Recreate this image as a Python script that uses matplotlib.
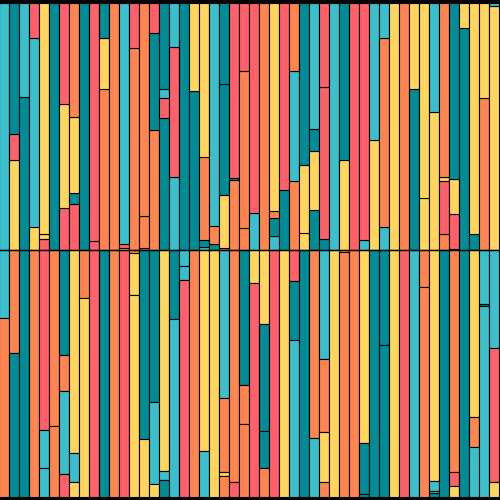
import matplotlib
matplotlib.use("Agg")
import matplotlib.pyplot as plt

# colour codes
palette = {
    "T": "#3bbfcc",  # light teal
    "D": "#008c96",  # dark teal
    "R": "#ff606a",  # coral red
    "O": "#ff8550",  # orange
    "Y": "#ffd55e",  # yellow
}

# upper half: segments per bar, from the centre line upwards
top_codes = [
    "T", "YRD", "DT", "YTR", "RYY", "D", "RYR", "RDYO", "D", "RR",
    "OYD", "O", "YRT", "OR", "ROO", "ODR", "DRTD", "TRT", "D", "DY",
    "TDOY", "DOT", "RYDD", "ODR", "OOR", "TR", "O", "TDOY", "DR", "OTO",
    "YYD", "DYDT", "DRR", "T", "YD", "R", "TR", "YT", "TOT", "Y",
    "O", "DY", "YY", "YT", "ORYO", "ORYD", "DY", "DY", "OY", "YT",
]
top_shares = [
    [1.0], [0.366, 0.106, 0.528], [0.62, 0.38], [0.092, 0.766, 0.142],
    [0.043, 0.02, 0.937], [1.0], [0.172, 0.42, 0.408],
    [0.186, 0.047, 0.308, 0.459], [1.0], [0.037, 0.963],
    [0.654, 0.206, 0.14], [1.0], [0.01, 0.015, 0.975], [0.82, 0.18],
    [0.01, 0.128, 0.862], [0.485, 0.397, 0.118],
    [0.535, 0.081, 0.037, 0.347], [0.298, 0.526, 0.176], [1.0],
    [0.645, 0.355], [0.011, 0.03, 0.336, 0.623], [0.024, 0.075, 0.901],
    [0.008, 0.217, 0.447, 0.328], [0.283, 0.008, 0.709],
    [0.089, 0.635, 0.276], [0.152, 0.848], [1.0],
    [0.057, 0.072, 0.03, 0.841], [0.244, 0.756], [0.279, 0.446, 0.275],
    [0.069, 0.274, 0.657], [0.164, 0.237, 0.091, 0.508],
    [0.045, 0.617, 0.338], [1.0], [0.366, 0.634], [1.0], [0.041, 0.959],
    [0.446, 0.554], [0.092, 0.768, 0.14], [1.0], [1.0], [0.654, 0.346],
    [0.21, 0.79], [0.561, 0.439], [0.065, 0.213, 0.018, 0.704],
    [0.005, 0.143, 0.138, 0.714], [0.9, 0.1], [0.065, 0.935],
    [0.617, 0.383], [0.988, 0.012],
]

# lower half: segments per bar, from the centre line downwards
bottom_codes = [
    "TO", "OD", "D", "O", "RTT", "OO", "DOTR", "YTY", "OY", "R",
    "D", "O", "R", "OYY", "DY", "DTY", "YTD", "DT", "TTR", "O",
    "YT", "Y", "TOYO", "OR", "DOO", "YR", "YDDO", "R", "Y", "RDT",
    "D", "OT", "TOYO", "Y", "OO", "O", "YDD", "D", "DD", "Y",
    "R", "T", "OO", "YTTD", "D", "ORY", "D", "YOT", "TDT", "TRY",
]
bottom_shares = [
    [0.277, 0.723], [0.419, 0.581], [1.0], [1.0], [0.73, 0.155, 0.115],
    [0.712, 0.288], [0.426, 0.146, 0.335, 0.093], [0.822, 0.118, 0.06],
    [0.196, 0.804], [1.0], [1.0], [1.0], [1.0], [0.014, 0.169, 0.817],
    [0.766, 0.234], [0.618, 0.33, 0.052], [0.895, 0.038, 0.067],
    [0.281, 0.719], [0.064, 0.057, 0.879], [1.0], [0.814, 0.186], [1.0],
    [0.599, 0.303, 0.014, 0.084], [0.942, 0.058], [0.547, 0.157, 0.296],
    [0.135, 0.865], [0.3, 0.434, 0.149, 0.117], [1.0], [1.0],
    [0.124, 0.243, 0.633], [1.0], [0.764, 0.236],
    [0.443, 0.297, 0.203, 0.057], [1.0], [0.01, 0.99], [1.0],
    [0.784, 0.207, 0.009], [1.0], [0.385, 0.615], [1.0], [1.0], [1.0],
    [0.149, 0.851], [0.935, 0.041, 0.011, 0.013], [1.0],
    [0.901, 0.058, 0.041], [1.0], [0.678, 0.123, 0.199],
    [0.219, 0.007, 0.774], [0.399, 0.54, 0.061],
]

fig = plt.figure(figsize=(5, 5), dpi=100, facecolor="black")
ax = fig.add_axes([0, 0, 1, 1])


def draw_half(codes, shares, sign):
    for i, (code, vals) in enumerate(zip(codes, shares)):
        total = sum(vals)
        cum = 0.0
        for c, v in zip(code, vals):
            h = v / total
            ax.bar(i, sign * h, bottom=sign * cum, width=1.0,
                   color=palette[c], edgecolor="black", linewidth=0.8)
            cum += h


draw_half(top_codes, top_shares, 1)
draw_half(bottom_codes, bottom_shares, -1)

ax.axhline(0, color="black", linewidth=1.0)
ax.set_xlim(-0.43, 49.57)
ax.set_ylim(-1.014, 1.014)
ax.axis("off")

fig.savefig("out.png", dpi=100, facecolor="black")
